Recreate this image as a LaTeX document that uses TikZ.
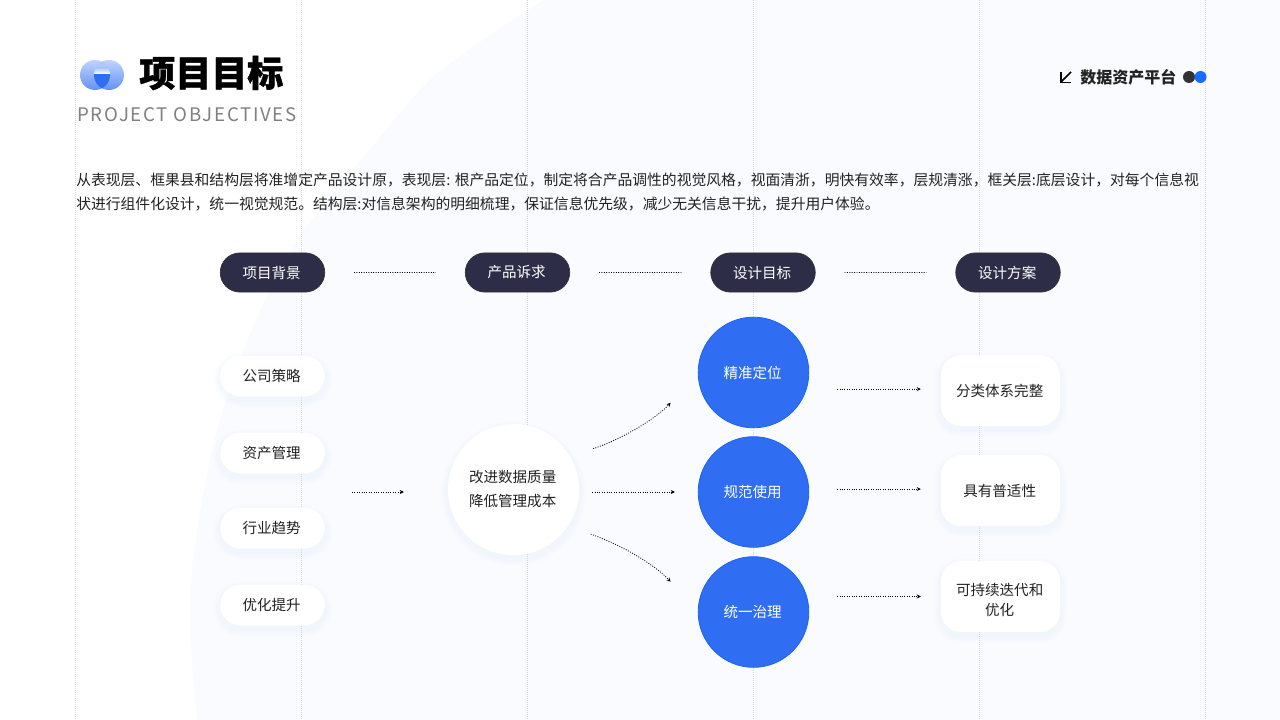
\documentclass[tikz,border=0pt]{standalone}
\usepackage{fontspec}
\setmainfont{Noto Sans CJK SC}
\newfontfamily\latinfont[LetterSpace=9]{Noto Sans CJK SC}
\newfontfamily\headfont[BoldFeatures={FakeBold=1.2}]{Noto Sans CJK SC}
\usetikzlibrary{arrows.meta}
\usetikzlibrary{shapes.misc,positioning,calc}
\definecolor{inkdark}{HTML}{2D2D47}
\definecolor{inktext}{HTML}{222222}
\definecolor{bluegoal}{HTML}{2F6DF2}
\definecolor{blueedge}{HTML}{1F63F2}
\definecolor{paleback}{HTML}{F9FBFF}
\definecolor{glowblue}{HTML}{A9C6F7}
\definecolor{guidegray}{HTML}{DADADA}
\definecolor{dotblue}{HTML}{1A6BFF}
\tikzset{
	softglow/.style={
		preaction={draw=glowblue,line width=10pt,draw opacity=.025,transform canvas={yshift=-3pt}},
		preaction={draw=glowblue,line width=7pt,draw opacity=.03,transform canvas={yshift=-3pt}},
		preaction={draw=glowblue,line width=4pt,draw opacity=.035,transform canvas={yshift=-2.5pt}}},
	oneline/.style={execute at end node=\kern1.2pt},
	pillhead/.style={rounded rectangle,oneline,draw=black!80,line width=.5pt,fill=inkdark,text=white,font=\fontsize{10.9pt}{13pt}\selectfont,minimum width=78.4pt,minimum height=29.4pt,inner sep=0pt},
	pillsoft/.style={rounded rectangle,oneline,softglow,fill=white,text=inktext,font=\fontsize{10.9pt}{13pt}\selectfont,minimum width=78.4pt,minimum height=30.6pt,inner sep=0pt},
	corecircle/.style={circle,softglow,fill=white,text=inktext,font=\fontsize{10.9pt}{18pt}\selectfont,align=center,minimum size=98.2pt,inner sep=0pt},
	goalball/.style={circle,oneline,draw=blueedge,line width=.6pt,fill=bluegoal,text=white,font=\fontsize{10.9pt}{13pt}\selectfont,minimum size=83pt,inner sep=0pt},
	planbox/.style={rectangle,rounded corners=15pt,softglow,fill=white,text=inktext,font=\fontsize{10.9pt}{15pt}\selectfont,align=center,minimum width=89.2pt,minimum height=53.2pt,inner sep=0pt},
	flowline/.style={dash pattern=on .7pt off 1.1pt,line width=.6pt,black},
	flow/.style={flowline,-{Stealth[length=3pt,width=3pt]}},
	guide/.style={densely dotted,line width=.5pt,guidegray},
	bodyline/.style={anchor=west,inner sep=0pt,text=inktext,font=\fontsize{11.1pt}{13pt}\selectfont}
}
\begin{document}
\begin{tikzpicture}[x=.75pt,y=-.75pt]
	\useasboundingbox (0,0) rectangle (1280,720);
	\fill[white] (0,0) rectangle (1280,720);
	\begin{scope}
		\clip (0,0) rectangle (1280,720);
		\fill[paleback] plot[smooth] coordinates {(560,-8) (528,10) (433,77) (367,153) (302,233) (270,290) (241,357) (212,450) (193,560) (191,640) (197,720) (198,730)} -- (1290,730) -- (1290,-8) -- cycle;
	\end{scope}
	\foreach \gx in {75.5,301.5,527.5,753.5,979.5,1205.5}
		\draw[guide] (\gx,0) -- (\gx,720);
	% logo
	\shade[bottom color=bluegoal!75,top color=bluegoal!30] (95,75) circle [radius=15];
	\shade[bottom color=bluegoal!75,top color=bluegoal!30] (109,75) circle [radius=15];
	\begin{scope}
		\clip (95,75) circle [radius=15];
		\clip (109,75) circle [radius=15];
		\fill[bluegoal!38] (80,60) rectangle (125,68.5);
		\shade[top color=bluegoal!38,bottom color=white] (80,68) rectangle (125,74);
		\fill[bluegoal] (80,74.5) rectangle (125,90);
	\end{scope}
	% heading
	\node[anchor=west,inner sep=0pt,font=\headfont\fontsize{27pt}{30pt}\selectfont\bfseries] (title) at (139,73) {项目目标};
	\node[anchor=west,inner sep=0pt,text=black!50,font=\latinfont\fontsize{14pt}{18pt}\selectfont] (subtitle) at (77,114.5) {PROJECT OBJECTIVES};
	\draw[line width=1.2pt,black] (1071,72) -- (1061,82);
	\draw[line width=1.2pt,black] (1061,72.5) -- (1061,82.5) -- (1071,82.5);
	\node[anchor=west,inner sep=0pt,font=\fontsize{12pt}{14pt}\selectfont\bfseries,text=inktext] (platform) at (1080,77) {数据资产平台};
	\fill[black!80] (1189,77) circle [radius=6];
	\fill[dotblue] (1200.5,77) circle [radius=6];
	% text
	\node[bodyline] (line1) at (76,180) {从表现层、框果县和结构层将准增定产品设计原，表现层: 根产品定位，制定将合产品调性的视觉风格，视面清浙，明快有效率，层规清涨，框关层:底层设计，对每个信息视};
	\node[bodyline] (line2) at (76,204) {状进行组件化设计，统一视觉规范。结构层:对信息架构的明细梳理，保证信息优先级，减少无关信息干扰，提升用户体验。};
	% top row
	\node[pillhead] (head1) at (272.5,272.5) {项目背景};
	\node[pillhead] (head2) at (517.5,272.5) {产品诉求};
	\node[pillhead] (head3) at (763,272.5) {设计目标};
	\node[pillhead] (head4) at (1008,272.5) {设计方案};
	\draw[flowline,shorten <=21.7pt,shorten >=21.7pt] (head1) -- (head2);
	\draw[flowline,shorten <=21.7pt,shorten >=21.7pt] (head2) -- (head3);
	\draw[flowline,shorten <=21.7pt,shorten >=21.7pt] (head3) -- (head4);
	% left column
	\node[pillsoft] (src1) at (272.5,376) {公司策略};
	\node[pillsoft] (src2) at (272.5,453) {资产管理};
	\node[pillsoft] (src3) at (272.5,528) {行业趋势};
	\node[pillsoft] (src4) at (272.5,605) {优化提升};
	% middle
	\node[corecircle] (core) at (513.5,489.5) {改进数据质量\kern1.2pt\\降低管理成本\kern1.2pt};
	\node[goalball] (goal1) at (753.5,372.5) {精准定位};
	\node[goalball] (goal2) at (753.5,492) {规范使用};
	\node[goalball] (goal3) at (753.5,612) {统一治理};
	% right column
	\node[planbox] (plan1) at (1000.5,390.5) {分类体系完整\kern1.2pt};
	\node[planbox] (plan2) at (1000.5,490.5) {具有普适性\kern1.2pt};
	\node[planbox] (plan3) at (1000.5,596.5) {\rule{0pt}{15pt}可持续迭代和\kern1.2pt\\优化\kern1.2pt};
	% connectors
	\coordinate (srcout) at (352,492);
	\draw[flow,shorten >=33pt] (srcout) -- (srcout -| core.west);
	\draw[flow,shorten <=9.7pt,shorten >=17.2pt] (core.east |- goal2) -- (goal2.west);
	\draw[flow,shorten <=18pt,shorten >=30pt] (core.30) to[bend right=14] (goal1.181);
	\draw[flow,shorten <=18pt,shorten >=30pt] (core.-34) to[bend left=14] (goal3.179);
	\draw[flow,shorten <=21pt,shorten >=15pt] ([yshift=1.1pt]goal1.east |- plan1.west) -- ([yshift=1.1pt]plan1.west);
	\draw[flow,shorten <=21pt,shorten >=15pt] ([yshift=1.1pt]goal2.east |- plan2.west) -- ([yshift=1.1pt]plan2.west);
	\draw[flow,shorten <=21pt,shorten >=15pt] (goal3.east |- plan3.west) -- (plan3.west);
\end{tikzpicture}
\end{document}
